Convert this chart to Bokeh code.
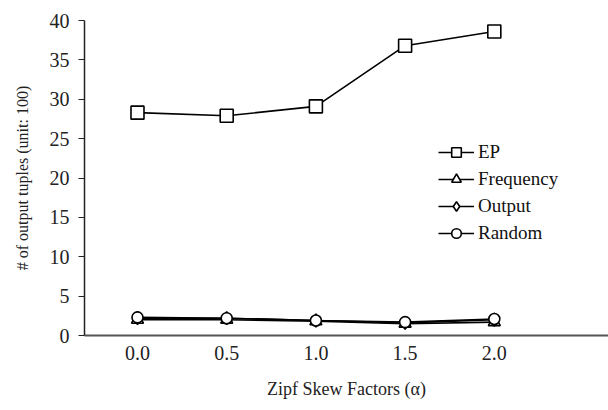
from bokeh.plotting import figure
from bokeh.models import Legend, LegendItem, FixedTicker, Range1d
from bokeh.embed import file_html
from bokeh.resources import INLINE

x_vals = [0.0, 0.5, 1.0, 1.5, 2.0]
x_labels = ["0.0", "0.5", "1.0", "1.5", "2.0"]
ep = [28.3, 27.9, 29.1, 36.8, 38.6]
frequency = [2.0, 2.0, 1.8, 1.5, 1.7]
output = [2.2, 2.2, 1.9, 1.6, 2.0]
random_ = [2.3, 2.2, 1.9, 1.7, 2.1]
y_ticks = [0, 5, 10, 15, 20, 25, 30, 35, 40]

FONT = "Liberation Serif"

p = figure(width=608, height=410, output_backend="svg", toolbar_location=None,
           x_range=Range1d(-0.297, 2.64), y_range=Range1d(0, 40),
           min_border_left=84, min_border_right=0, min_border_top=20, min_border_bottom=75)
p.outline_line_color = None
p.grid.visible = False

r_ep_l = p.line(x_vals, ep, line_color="black", line_width=1.6)
r_ep_m = p.scatter(x_vals, ep, marker="square", size=13, fill_color="white", line_color="black", line_width=1.6)
r_fr_l = p.line(x_vals, frequency, line_color="black", line_width=1.6)
r_fr_m = p.scatter(x_vals, frequency, marker="triangle", size=12, fill_color="white", line_color="black", line_width=1.6)
r_out_l = p.line(x_vals, output, line_color="black", line_width=1.6)
r_out_m = p.scatter(x_vals, output, marker="diamond", size=13, fill_color="white", line_color="black", line_width=1.6)
r_rd_l = p.line(x_vals, random_, line_color="black", line_width=1.6)
r_rd_m = p.scatter(x_vals, random_, marker="circle", size=11, fill_color="white", line_color="black", line_width=1.6)

legend = Legend(items=[
    LegendItem(label="EP", renderers=[r_ep_l, r_ep_m]),
    LegendItem(label="Frequency", renderers=[r_fr_l, r_fr_m]),
    LegendItem(label="Output", renderers=[r_out_l, r_out_m]),
    LegendItem(label="Random", renderers=[r_rd_l, r_rd_m]),
], location=(354, 90))
legend.label_text_font = FONT
legend.label_text_font_size = "19px"
legend.label_text_color = "#111111"
legend.border_line_color = None
legend.background_fill_alpha = 0
legend.glyph_width = 36
legend.glyph_height = 24
legend.label_height = 20
legend.spacing = 3
legend.padding = 0
legend.margin = 0
legend.label_standoff = 4
p.add_layout(legend, "center")

p.xaxis.ticker = FixedTicker(ticks=x_vals)
p.xaxis.major_label_overrides = {v: l for v, l in zip(x_vals, x_labels)}
p.xaxis.major_tick_line_color = None
p.xaxis.major_tick_out = 0
p.xaxis.major_tick_in = 0
p.xaxis.minor_tick_line_color = None
p.xaxis.axis_line_color = "#555555"
p.xaxis.axis_line_width = 2
p.xaxis.major_label_standoff = 10
p.xaxis.axis_label = "Zipf Skew Factors (α)"
p.xaxis.axis_label_standoff = 16

p.yaxis.ticker = FixedTicker(ticks=y_ticks)
p.yaxis.major_tick_out = 6
p.yaxis.major_tick_in = 0
p.yaxis.minor_tick_line_color = None
p.yaxis.axis_line_color = "#222222"
p.yaxis.axis_line_width = 1.5
p.yaxis.major_tick_line_color = "#222222"
p.yaxis.major_label_standoff = 9
p.yaxis.axis_label = "# of output tuples (unit: 100)"
p.yaxis.axis_label_standoff = 16

for ax in (p.xaxis, p.yaxis):
    ax.major_label_text_font = FONT
    ax.major_label_text_font_size = "20px"
    ax.major_label_text_color = "#222222"
    ax.axis_label_text_font = FONT
    ax.axis_label_text_font_style = "normal"
    ax.axis_label_text_color = "#222222"
p.xaxis.axis_label_text_font_size = "18px"
p.yaxis.axis_label_text_font_size = "16px"

open("out.html", "w").write(file_html(p, INLINE))
